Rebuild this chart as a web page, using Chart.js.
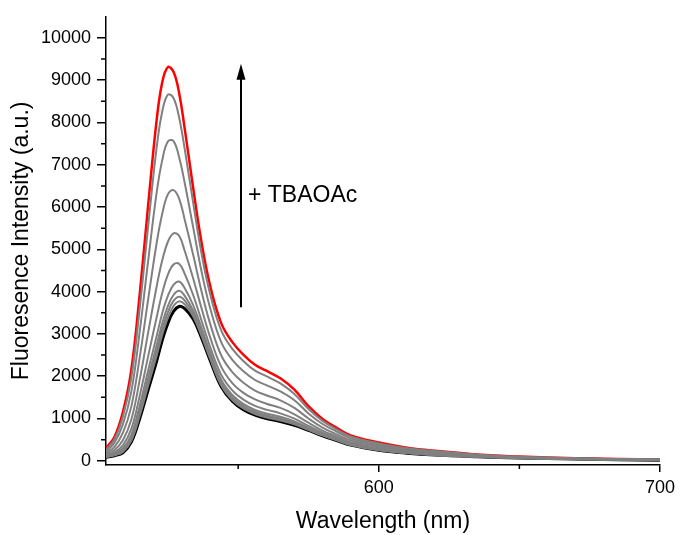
<!DOCTYPE html>
<html>
<head>
<meta charset="utf-8">
<script src="https://cdn.jsdelivr.net/npm/chart.js@4.4.1/dist/chart.umd.min.js"></script>
<style>
  body { margin: 0; background: #fff; }
</style>
</head>
<body>
<canvas id="spectra" width="680" height="535"></canvas>
<script>
// emission spectra, one curve per TBAOAc addition
const wavelengths = [503, 506, 509, 512, 515, 518, 521, 523, 525, 527, 529, 531, 534, 537, 540, 544, 548, 552, 556, 560, 565, 570, 575, 580, 585, 590, 600, 610, 620, 635, 650, 670, 700];

const blackCurve = [80, 120, 190, 440, 1000, 1680, 2350, 2850, 3250, 3530, 3650, 3600, 3350, 2900, 2380, 1750, 1400, 1200, 1080, 1000, 930, 840, 720, 590, 480, 370, 250, 180, 135, 95, 65, 40, 15];
const gray9 = [90, 130, 210, 480, 1070, 1780, 2480, 2980, 3380, 3660, 3770, 3700, 3420, 2950, 2420, 1780, 1430, 1230, 1105, 1025, 950, 860, 730, 600, 485, 375, 252, 182, 137, 96, 66, 40, 15];
const gray8 = [95, 135, 230, 510, 1125, 1865, 2590, 3110, 3510, 3780, 3880, 3790, 3480, 2990, 2450, 1810, 1460, 1250, 1130, 1050, 975, 875, 745, 605, 495, 380, 255, 185, 138, 97, 67, 41, 16];
const gray7 = [100, 150, 250, 550, 1195, 1965, 2725, 3250, 3660, 3920, 4020, 3900, 3550, 3050, 2500, 1850, 1490, 1290, 1160, 1075, 1000, 895, 760, 615, 500, 385, 260, 190, 140, 98, 68, 41, 16];
const gray6 = [110, 165, 290, 615, 1310, 2140, 2945, 3490, 3900, 4160, 4240, 4080, 3680, 3140, 2570, 1910, 1550, 1340, 1205, 1120, 1040, 930, 780, 630, 510, 395, 270, 195, 145, 100, 70, 42, 17];
const gray5 = [125, 200, 365, 755, 1540, 2475, 3390, 3970, 4400, 4640, 4660, 4420, 3920, 3310, 2700, 2030, 1660, 1440, 1300, 1210, 1120, 995, 825, 665, 535, 410, 285, 205, 155, 105, 72, 44, 18];
const gray4 = [150, 255, 485, 975, 1920, 3035, 4115, 4740, 5180, 5380, 5320, 4960, 4310, 3600, 2930, 2220, 1830, 1600, 1450, 1350, 1250, 1100, 900, 715, 575, 440, 305, 220, 170, 110, 75, 46, 20];
const gray3 = [180, 330, 660, 1280, 2450, 3820, 5145, 5840, 6300, 6400, 6200, 5700, 4870, 4000, 3250, 2490, 2090, 1840, 1660, 1550, 1430, 1250, 1000, 785, 625, 485, 340, 245, 185, 120, 82, 50, 22];
const gray2 = [220, 425, 860, 1635, 3060, 4735, 6335, 7110, 7550, 7560, 7180, 6570, 5520, 4470, 3620, 2800, 2380, 2110, 1910, 1790, 1640, 1430, 1120, 870, 690, 530, 375, 270, 210, 135, 90, 54, 25];
const gray1 = [260, 510, 1040, 1955, 3610, 5550, 7405, 8260, 8660, 8580, 8120, 7370, 6100, 4890, 3950, 3080, 2640, 2350, 2130, 2000, 1830, 1580, 1225, 945, 745, 575, 410, 295, 230, 145, 95, 58, 28];
const redCurve = [300, 560, 1150, 2150, 3950, 6050, 8050, 8950, 9310, 9200, 8700, 7850, 6450, 5150, 4150, 3250, 2800, 2500, 2270, 2130, 1950, 1680, 1290, 990, 780, 600, 430, 310, 240, 150, 100, 60, 30];

const grayCurves = [gray9, gray8, gray7, gray6, gray5, gray4, gray3, gray2, gray1];

const xMajorTicks = [600, 700];
const xMinorTicks = [550, 650];
const yMajorTicks = [0, 1000, 2000, 3000, 4000, 5000, 6000, 7000, 8000, 9000, 10000];
const yMinorTicks = [500, 1500, 2500, 3500, 4500, 5500, 6500, 7500, 8500, 9500];

const arrowText = '+ TBAOAc';

const FONT = '"Liberation Sans", Arial, sans-serif';

const toPoints = (vals) => wavelengths.map((w, i) => ({ x: w, y: vals[i] }));

const datasets = [];
grayCurves.forEach((c) => {
  datasets.push({ data: toPoints(c), borderColor: '#808080', borderWidth: 2 });
});
datasets.push({ data: toPoints(blackCurve), borderColor: '#000000', borderWidth: 3 });
datasets.push({ data: toPoints(redCurve), borderColor: '#ff0000', borderWidth: 2.5 });

// short minor ticks + the arrow annotation
const extras = {
  id: 'extras',
  afterDraw(chart) {
    const { ctx, scales: { x, y } } = chart;
    ctx.save();
    ctx.strokeStyle = '#000';
    ctx.lineWidth = 1.5;
    ctx.beginPath();
    xMinorTicks.forEach((v) => {
      const px = x.getPixelForValue(v);
      ctx.moveTo(px, y.bottom);
      ctx.lineTo(px, y.bottom + 4);
    });
    yMinorTicks.forEach((v) => {
      const py = y.getPixelForValue(v);
      ctx.moveTo(x.left, py);
      ctx.lineTo(x.left - 5, py);
    });
    ctx.stroke();

    // arrow
    const ax = x.getPixelForValue(551);
    const ay0 = y.getPixelForValue(3630);
    const ay1 = y.getPixelForValue(9390);
    ctx.lineWidth = 2;
    ctx.beginPath();
    ctx.moveTo(ax, ay0);
    ctx.lineTo(ax, ay1 + 12);
    ctx.stroke();
    ctx.fillStyle = '#000';
    ctx.beginPath();
    ctx.moveTo(ax, ay1);
    ctx.lineTo(ax - 4.5, ay1 + 16);
    ctx.lineTo(ax + 4.5, ay1 + 16);
    ctx.closePath();
    ctx.fill();

    ctx.font = '23px ' + FONT;
    ctx.textBaseline = 'middle';
    ctx.textAlign = 'left';
    ctx.fillText(arrowText, ax + 7, y.getPixelForValue(6270));
    ctx.restore();
  }
};

new Chart(document.getElementById('spectra'), {
  type: 'line',
  data: { datasets },
  options: {
    responsive: false,
    animation: false,
    layout: { padding: { top: 16, right: 17, left: 0, bottom: 0 } },
    elements: {
      point: { radius: 0 },
      line: { tension: 0.4, fill: false }
    },
    plugins: { legend: { display: false }, tooltip: { enabled: false } },
    scales: {
      x: {
        type: 'linear',
        min: 503,
        max: 700,
        afterBuildTicks: (scale) => { scale.ticks = xMajorTicks.map((v) => ({ value: v })); },
        afterFit: (scale) => { scale.height = 70; },
        border: { display: true, color: '#000', width: 1.5 },
        grid: { drawOnChartArea: false, drawTicks: true, tickLength: 7, color: '#000', lineWidth: 1.5 },
        ticks: { color: '#000', font: { family: FONT, size: 18 }, padding: 5, maxRotation: 0, callback: (v) => String(v) },
        title: { display: true, text: 'Wavelength (nm)', color: '#000', font: { family: FONT, size: 23 }, padding: { top: 0, bottom: 0 } }
      },
      y: {
        min: -100,
        max: 10500,
        afterBuildTicks: (scale) => { scale.ticks = yMajorTicks.map((v) => ({ value: v })); },
        afterFit: (scale) => { scale.width = 106; },
        border: { display: true, color: '#000', width: 1.5 },
        grid: { drawOnChartArea: false, drawTicks: true, tickLength: 9, color: '#000', lineWidth: 1.5 },
        ticks: { color: '#000', font: { family: FONT, size: 18 }, padding: 6, callback: (v) => String(v) },
        title: { display: true, text: 'Fluoresence Intensity (a.u.)', color: '#000', font: { family: FONT, size: 23 }, padding: { top: 8, bottom: 0 } }
      }
    }
  },
  plugins: [extras]
});
</script>
</body>
</html>
